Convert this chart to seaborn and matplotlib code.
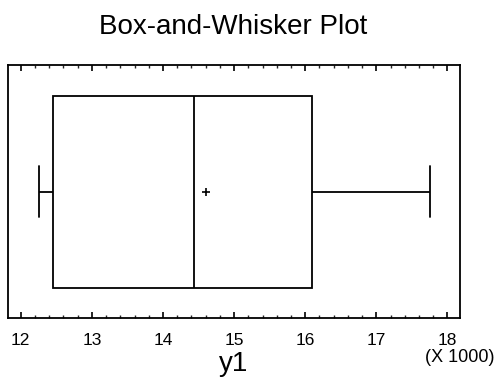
import matplotlib
matplotlib.use("Agg")
import matplotlib.pyplot as plt
from matplotlib.ticker import MultipleLocator, FuncFormatter
import seaborn as sns
import pandas as pd

# y1 sample summary points (min, Q1, median, Q3, max)
y1_values = [12260, 12460, 14440, 16090, 17760]
x_ticks = [12000, 13000, 14000, 15000, 16000, 17000, 18000]
x_limits = (11820, 18180)

sns.set_style("white")
plt.rcParams["font.family"] = ["Liberation Sans", "DejaVu Sans"]
plt.rcParams["text.color"] = "black"
plt.rcParams["axes.labelcolor"] = "black"

df = pd.DataFrame({"y1": y1_values})

fig = plt.figure(figsize=(4.97, 3.88), dpi=100)
ax = fig.add_axes([0.016, 0.180, 0.910, 0.652])

sns.boxplot(
    data=df, x="y1", orient="h", ax=ax, width=0.76,
    color="white", linecolor="black", linewidth=1.3,
    showmeans=True, whis=1.5,
    meanprops=dict(marker="+", markeredgecolor="black", markersize=6,
                   markeredgewidth=1.2),
    capwidths=0.2,
)

ax.set_xlim(*x_limits)
ax.set_ylim(0.5, -0.5)
ax.set_xticks(x_ticks)
ax.xaxis.set_minor_locator(MultipleLocator(200))
ax.xaxis.set_major_formatter(FuncFormatter(lambda v, p: f"{v/1000:g}"))
ax.set_yticks([])
ax.set_ylabel("")
ax.tick_params(axis="x", which="major", direction="in", length=4, width=1.2,
               top=True, bottom=True, labelsize=12.5, pad=11, colors="black")
ax.tick_params(axis="x", which="minor", direction="in", length=2, width=1.0,
               top=True, bottom=True)
for s in ax.spines.values():
    s.set_visible(True)
    s.set_color("black")
    s.set_linewidth(1.3)

ax.set_xlabel("y1", fontsize=20, labelpad=2)
ax.text(1.0, -0.155, "(X 1000)", transform=ax.transAxes, ha="center",
        va="center", fontsize=13)
fig.text(0.469, 0.93, "Box-and-Whisker Plot", ha="center", va="center",
         fontsize=20)

fig.savefig("out.png", dpi=100)
